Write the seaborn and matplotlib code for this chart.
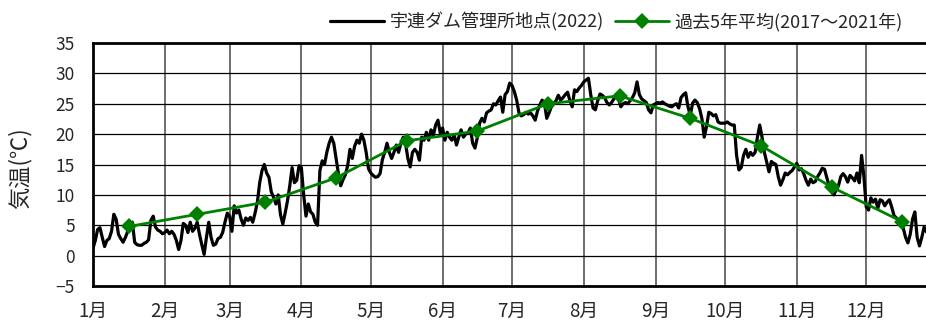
import numpy as np
import pandas as pd
import matplotlib
matplotlib.use('Agg')
import matplotlib.pyplot as plt
import seaborn as sns

# 日平均気温 (2022) 月ごと
jan = [1.2, 2.5, 4.3, 4.6, 3.0, 1.5, 2.5, 2.8, 4.0, 6.8, 6.0, 3.5, 2.8, 2.2, 3.0, 4.0,
       5.2, 5.5, 2.2, 1.8, 1.7, 1.7, 2.0, 2.2, 2.6, 5.8, 6.5, 4.7, 4.2, 4.0, 3.6]
feb = [3.8, 4.2, 3.6, 4.0, 3.5, 2.5, 1.0, 2.5, 5.3, 5.0, 3.8, 5.5, 4.0, 4.5, 5.5, 3.5,
       1.8, 0.2, 3.0, 5.5, 3.0, 1.7, 1.9, 2.8, 3.0, 3.8, 5.5, 7.0]
mar = [6.5, 4.0, 8.2, 7.0, 7.5, 6.0, 5.0, 6.2, 5.8, 6.3, 5.5, 7.0, 8.8, 12.0, 14.0, 15.0,
       13.6, 12.9, 10.5, 9.6, 8.5, 10.0, 6.7, 5.2, 7.0, 9.0, 11.5, 14.5, 12.0, 12.4, 14.8]
apr = [14.5, 10.0, 6.5, 8.5, 7.2, 6.8, 5.5, 5.0, 14.0, 15.6, 15.0, 17.0, 18.5, 19.5, 18.5,
       16.0, 13.5, 11.5, 12.5, 13.3, 14.8, 17.5, 16.0, 18.0, 19.0, 18.5, 20.0, 19.0, 17.0, 14.3]
may = [13.6, 13.2, 12.9, 13.0, 13.5, 15.8, 17.0, 18.5, 17.0, 16.0, 17.0, 18.2, 17.0, 18.5,
       19.5, 18.5, 16.0, 14.6, 17.0, 17.5, 17.0, 15.7, 19.5, 19.0, 20.3, 19.0, 20.7, 19.8,
       21.5, 22.3, 20.2]
jun = [21.0, 19.0, 20.3, 19.5, 19.0, 19.9, 18.2, 19.5, 20.7, 19.5, 20.0, 20.2, 21.0, 18.5,
       17.7, 19.4, 21.8, 22.6, 22.0, 23.5, 23.8, 24.0, 25.0, 24.8, 25.5, 26.1, 23.6, 26.5,
       27.0, 28.4]
jul = [28.0, 27.0, 25.6, 23.5, 23.0, 23.2, 23.6, 23.3, 23.5, 23.0, 22.3, 23.8, 24.8, 25.6,
       25.1, 22.6, 23.5, 24.5, 25.0, 25.5, 26.4, 25.6, 26.0, 26.5, 26.9, 25.5, 24.5, 27.3,
       27.0, 27.6, 28.0]
aug = [28.6, 28.9, 29.2, 26.5, 24.3, 24.0, 25.5, 26.6, 26.4, 26.0, 25.2, 24.8, 25.2, 25.8,
       26.2, 25.8, 24.5, 25.0, 25.2, 25.0, 25.5, 26.0, 26.8, 28.6, 26.5, 25.8, 25.5, 25.2,
       24.0, 23.5, 24.8]
sep = [25.0, 25.2, 25.1, 25.3, 25.0, 24.8, 24.6, 24.5, 24.8, 25.0, 24.3, 26.0, 26.5, 26.8,
       24.5, 23.1, 25.1, 25.6, 25.2, 24.2, 22.6, 19.5, 21.2, 23.6, 23.4, 23.0, 23.2, 22.0,
       21.8, 21.8]
oct_ = [21.8, 22.0, 21.7, 21.5, 21.5, 16.5, 14.1, 14.5, 16.5, 17.5, 16.2, 17.0, 16.5, 17.0,
        19.5, 21.5, 19.5, 17.0, 15.4, 13.8, 15.5, 15.2, 15.0, 13.0, 11.6, 12.5, 13.6, 13.3,
        13.7, 14.0, 14.6]
nov = [15.2, 14.1, 14.3, 13.5, 12.4, 11.6, 12.6, 12.0, 12.2, 13.0, 13.6, 14.4, 14.2, 12.8,
       11.5, 10.5, 10.0, 10.8, 11.5, 13.0, 13.5, 13.0, 12.1, 13.2, 12.8, 12.3, 13.6, 12.0,
       16.5, 13.0]
dec = [8.0, 7.5, 9.5, 8.8, 9.3, 7.8, 9.2, 9.0, 8.2, 8.8, 9.2, 8.0, 6.6, 6.2, 5.8, 5.5,
       4.5, 3.0, 2.1, 3.5, 6.0, 7.2, 3.0, 1.6, 3.0, 4.7, 4.0, 3.2, 2.5, 3.5, 4.0]

# 過去5年平均 (月平均)
avg5 = [4.8, 6.8, 8.8, 12.8, 18.9, 20.5, 25.0, 26.3, 22.6, 18.1, 11.3, 5.6]

month_labels = ['1月', '2月', '3月', '4月', '5月', '6月', '7月', '8月', '9月', '10月', '11月', '12月']
month_days = [31, 28, 31, 30, 31, 30, 31, 31, 30, 31, 30, 31]

daily = jan + feb + mar + apr + may + jun + jul + aug + sep + oct_ + nov + dec
month_start = np.concatenate([[0], np.cumsum(month_days)[:-1]])
month_mid = month_start + np.array(month_days) / 2

df_day = pd.DataFrame({'day': np.arange(len(daily)), 'temp': daily})
df_avg = pd.DataFrame({'day': month_mid, 'temp': avg5})

sns.set_style('white')
plt.rcParams['font.family'] = ['Noto Sans CJK JP', 'DejaVu Sans']

fig = plt.figure(figsize=(9.26, 3.22), dpi=100)
ax = fig.add_axes([93 / 926, 1 - 286 / 322, (938 - 93) / 926, 243 / 322])

sns.lineplot(data=df_day, x='day', y='temp', color='black', lw=2.3, ax=ax,
             label='宇連ダム管理所地点(2022)')
sns.lineplot(data=df_avg, x='day', y='temp', color='#008000', lw=2, marker='D',
             markersize=8, markeredgewidth=0, ax=ax,
             label='過去5年平均(2017～2021年)')

ax.set_xlim(0, 365)
ax.set_ylim(-5, 35)
ax.set_yticks(range(-5, 36, 5))
ax.set_yticklabels(['−5' if v < 0 else str(v) for v in range(-5, 36, 5)])
ax.set_xticks(month_start)
ax.set_xticklabels(month_labels)
ax.tick_params(axis='y', length=0, pad=13, labelsize=12.5)
ax.tick_params(axis='x', length=0, pad=11, labelsize=13.5)
ax.set_xlabel('')
ax.set_ylabel('')

ax.grid(axis='y', color='black', lw=0.9)
ax.grid(axis='x', color='#555555', lw=1.2)
for s in ax.spines.values():
    s.set_color('black')
    s.set_linewidth(2)

fig.text(20 / 926, 1 - 168 / 322, '気温(℃)', rotation=90, fontsize=16,
         ha='center', va='center')

ax.get_legend().remove()
h, l = ax.get_legend_handles_labels()
fig.legend(h, l, loc='center left', bbox_to_anchor=(330 / 926, 1 - 22 / 322),
           ncol=2, frameon=False, fontsize=13, handlelength=3.0, handletextpad=0.3,
           columnspacing=0.6, borderpad=0, borderaxespad=0)

plt.savefig('out.png', dpi=100)
